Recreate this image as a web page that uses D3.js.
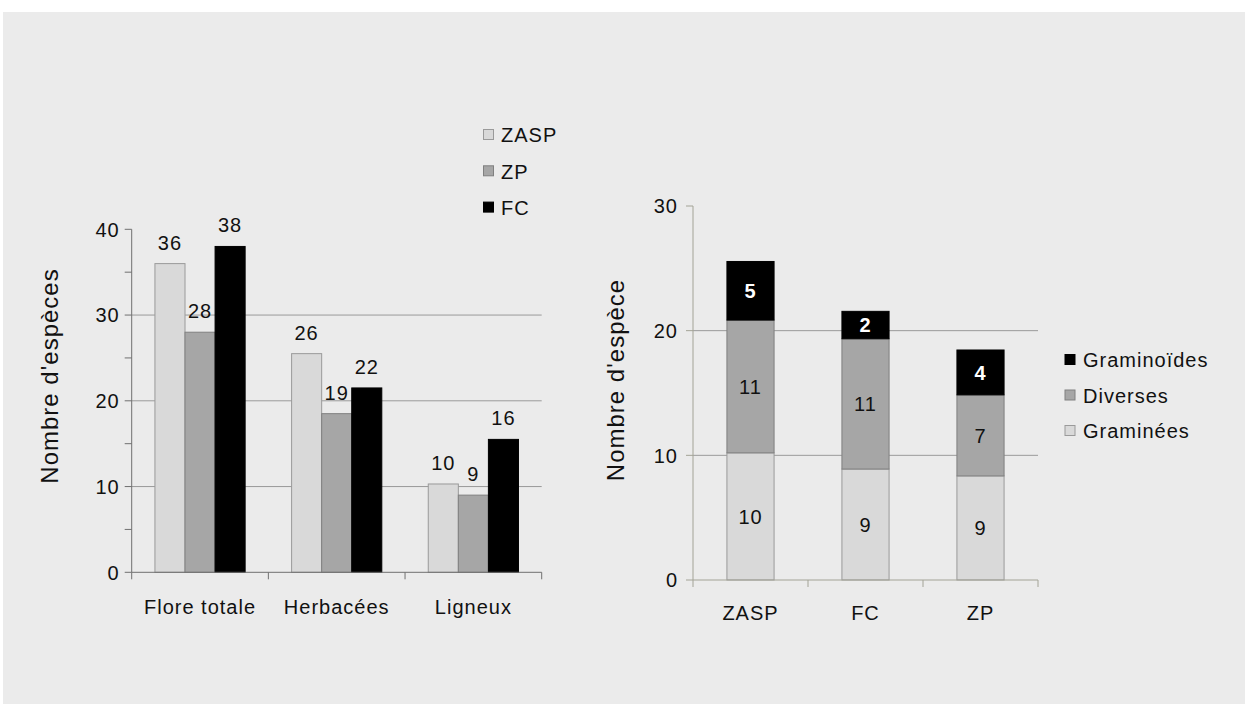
<!DOCTYPE html>
<html>
<head>
<meta charset="utf-8">
<script src="https://cdn.jsdelivr.net/npm/d3@7"></script>
<style>
  html, body { margin: 0; padding: 0; background: #ffffff; }
  svg text { font-family: "Liberation Sans", Arial, Helvetica, sans-serif; fill: #111; letter-spacing: 1px; }
</style>
</head>
<body>
<svg id="chart" width="1245" height="704"></svg>
<script>
// ---------- Data: left chart (grouped) ----------
const groupCategories = ["Flore totale", "Herbacées", "Ligneux"];
const groupSeries = ["ZASP", "ZP", "FC"];
const valuesZASP = [36, 25.5, 10.3];
const valuesZP = [28, 18.5, 9];
const valuesFC = [38, 21.5, 15.5];
const labelsZASP = ["36", "26", "10"];
const labelsZP = ["28", "19", "9"];
const labelsFC = ["38", "22", "16"];
const leftTicks = [0, 10, 20, 30, 40];
const leftMinorTicks = [5, 15, 25, 35];
const leftGrid = [10, 20, 30];

// ---------- Data: right chart (stacked) ----------
const stackCategories = ["ZASP", "FC", "ZP"];
const stackSeries = ["Graminées", "Diverses", "Graminoïdes"];
const valuesGraminees = [10.2, 8.9, 8.35];
const valuesDiverses = [10.65, 10.45, 6.5];
const valuesGraminoides = [4.7, 2.2, 3.6];
const labelsGraminees = ["10", "9", "9"];
const labelsDiverses = ["11", "11", "7"];
const labelsGraminoides = ["5", "2", "4"];
const rightTicks = [0, 10, 20, 30];
const rightGrid = [10, 20];

const svg = d3.select("#chart");
const fills = { light: "#d9d9d9", mid: "#a6a6a6", dark: "#000000" };
const strokes = { light: "#9a9a9a", mid: "#808080", dark: "#000000" };
const FS = 20;

// background
svg.append("rect").attr("x", 3).attr("y", 12).attr("width", 1242).attr("height", 692).attr("fill", "#ebebeb");

// ================= LEFT CHART =================
const L = { x0: 131.7, x1: 541.7, y0: 572.3, y1: 229.3 };
const yL = d3.scaleLinear().domain([0, 40]).range([L.y0, L.y1]);
const xL = d3.scaleBand().domain(groupCategories).range([L.x0, L.x1]).paddingInner(0.34).paddingOuter(0.17);
const xLs = d3.scaleBand().domain(groupSeries).range([0, xL.bandwidth()]).padding(0);

const gL = svg.append("g");
gL.selectAll("line.grid").data(leftGrid).join("line")
  .attr("x1", L.x0).attr("x2", L.x1)
  .attr("y1", d => yL(d)).attr("y2", d => yL(d))
  .attr("stroke", "#9a9a9a").attr("stroke-width", 1);

const seriesL = [
  { key: "ZASP", values: valuesZASP, labels: labelsZASP, fill: fills.light, stroke: strokes.light },
  { key: "ZP", values: valuesZP, labels: labelsZP, fill: fills.mid, stroke: strokes.mid },
  { key: "FC", values: valuesFC, labels: labelsFC, fill: fills.dark, stroke: strokes.dark }
];
seriesL.forEach(s => {
  groupCategories.forEach((c, i) => {
    const x = xL(c) + xLs(s.key);
    gL.append("rect")
      .attr("x", x).attr("y", yL(s.values[i]))
      .attr("width", xLs.bandwidth()).attr("height", yL(0) - yL(s.values[i]))
      .attr("fill", s.fill).attr("stroke", s.stroke).attr("stroke-width", 1);
    gL.append("text")
      .attr("x", x + xLs.bandwidth() / 2).attr("y", yL(s.values[i]) - 14)
      .attr("text-anchor", "middle").attr("font-size", FS)
      .text(s.labels[i]);
  });
});

// y axis
gL.append("line").attr("x1", L.x0).attr("x2", L.x0).attr("y1", L.y1).attr("y2", L.y0).attr("stroke", "#707070");
gL.selectAll("line.ytick").data(leftTicks.concat(leftMinorTicks)).join("line")
  .attr("x1", L.x0 - 7).attr("x2", L.x0).attr("y1", d => yL(d)).attr("y2", d => yL(d)).attr("stroke", "#707070");
gL.selectAll("text.ylab").data(leftTicks).join("text")
  .attr("x", L.x0 - 12).attr("y", d => yL(d)).attr("dy", "0.36em")
  .attr("text-anchor", "end").attr("font-size", FS).text(d => d);
// x axis
gL.append("line").attr("x1", L.x0).attr("x2", L.x1).attr("y1", L.y0).attr("y2", L.y0).attr("stroke", "#707070");
d3.range(groupCategories.length + 1).forEach(i => {
  const x = L.x0 + i * xL.step();
  gL.append("line").attr("x1", x).attr("x2", x).attr("y1", L.y0).attr("y2", L.y0 + 7).attr("stroke", "#707070");
});
gL.selectAll("text.xlab").data(groupCategories).join("text")
  .attr("x", d => xL(d) + xL.bandwidth() / 2).attr("y", 614)
  .attr("text-anchor", "middle").attr("font-size", FS).text(d => d);
gL.append("text").attr("transform", "translate(58,376) rotate(-90)")
  .attr("text-anchor", "middle").attr("font-size", 24).text("Nombre d'espèces");

// legend left
const legL = svg.append("g");
seriesL.forEach((s, i) => {
  const cy = 135 + i * 36.3;
  legL.append("rect").attr("x", 483.5).attr("y", cy - 5.5).attr("width", 10).attr("height", 10)
    .attr("fill", s.fill).attr("stroke", s.stroke);
  legL.append("text").attr("x", 501).attr("y", cy).attr("dy", "0.36em").attr("font-size", FS).text(s.key);
});

// ================= RIGHT CHART =================
const R = { x0: 693, x1: 1038, y0: 580, y1: 206 };
const yR = d3.scaleLinear().domain([0, 30]).range([R.y0, R.y1]);
const xR = d3.scaleBand().domain(stackCategories).range([R.x0, R.x1]).paddingInner(0.59).paddingOuter(0.295);

const gR = svg.append("g");
gR.selectAll("line.grid").data(rightGrid).join("line")
  .attr("x1", R.x0).attr("x2", R.x1).attr("y1", d => yR(d)).attr("y2", d => yR(d))
  .attr("stroke", "#9a9a9a");

const seriesR = [
  { key: "Graminées", values: valuesGraminees, labels: labelsGraminees, fill: fills.light, stroke: strokes.light, text: "#111", weight: "normal" },
  { key: "Diverses", values: valuesDiverses, labels: labelsDiverses, fill: fills.mid, stroke: strokes.mid, text: "#111", weight: "normal" },
  { key: "Graminoïdes", values: valuesGraminoides, labels: labelsGraminoides, fill: fills.dark, stroke: strokes.dark, text: "#ffffff", weight: "bold" }
];
const rows = stackCategories.map((c, i) => {
  const o = { cat: c };
  seriesR.forEach(s => o[s.key] = s.values[i]);
  return o;
});
const stacked = d3.stack().keys(stackSeries)(rows);
stacked.forEach((layer, li) => {
  const s = seriesR[li];
  layer.forEach((d, i) => {
    const x = xR(stackCategories[i]);
    gR.append("rect")
      .attr("x", x).attr("y", yR(d[1]))
      .attr("width", xR.bandwidth()).attr("height", yR(d[0]) - yR(d[1]))
      .attr("fill", s.fill).attr("stroke", s.stroke);
    gR.append("text")
      .attr("x", x + xR.bandwidth() / 2).attr("y", (yR(d[0]) + yR(d[1])) / 2).attr("dy", "0.36em")
      .attr("text-anchor", "middle").attr("font-size", FS)
      .attr("font-weight", s.weight).style("fill", s.text)
      .text(s.labels[i]);
  });
});

const axCol = "#a3a396";
gR.append("line").attr("x1", R.x0).attr("x2", R.x0).attr("y1", R.y1).attr("y2", R.y0).attr("stroke", axCol);
gR.selectAll("line.ytick").data(rightTicks).join("line")
  .attr("x1", R.x0 - 7).attr("x2", R.x0).attr("y1", d => yR(d)).attr("y2", d => yR(d)).attr("stroke", axCol);
gR.selectAll("text.ylab").data(rightTicks).join("text")
  .attr("x", R.x0 - 15).attr("y", d => yR(d)).attr("dy", "0.36em")
  .attr("text-anchor", "end").attr("font-size", FS).text(d => d);
gR.append("line").attr("x1", R.x0).attr("x2", R.x1).attr("y1", R.y0).attr("y2", R.y0).attr("stroke", axCol);
d3.range(stackCategories.length + 1).forEach(i => {
  const x = R.x0 + i * xR.step();
  gR.append("line").attr("x1", x).attr("x2", x).attr("y1", R.y0).attr("y2", R.y0 + 7).attr("stroke", axCol);
});
gR.selectAll("text.xlab").data(stackCategories).join("text")
  .attr("x", d => xR(d) + xR.bandwidth() / 2).attr("y", 620)
  .attr("text-anchor", "middle").attr("font-size", FS).text(d => d);
gR.append("text").attr("transform", "translate(624,380) rotate(-90)")
  .attr("text-anchor", "middle").attr("font-size", 24).text("Nombre d'espèce");

// legend right (top = Graminoïdes)
const legR = svg.append("g");
seriesR.slice().reverse().forEach((s, i) => {
  const cy = 360 + i * 35.5;
  legR.append("rect").attr("x", 1065).attr("y", cy - 5.5).attr("width", 10).attr("height", 10)
    .attr("fill", s.fill).attr("stroke", s.stroke);
  legR.append("text").attr("x", 1083).attr("y", cy).attr("dy", "0.36em").attr("font-size", FS).text(s.key);
});
</script>
</body>
</html>
